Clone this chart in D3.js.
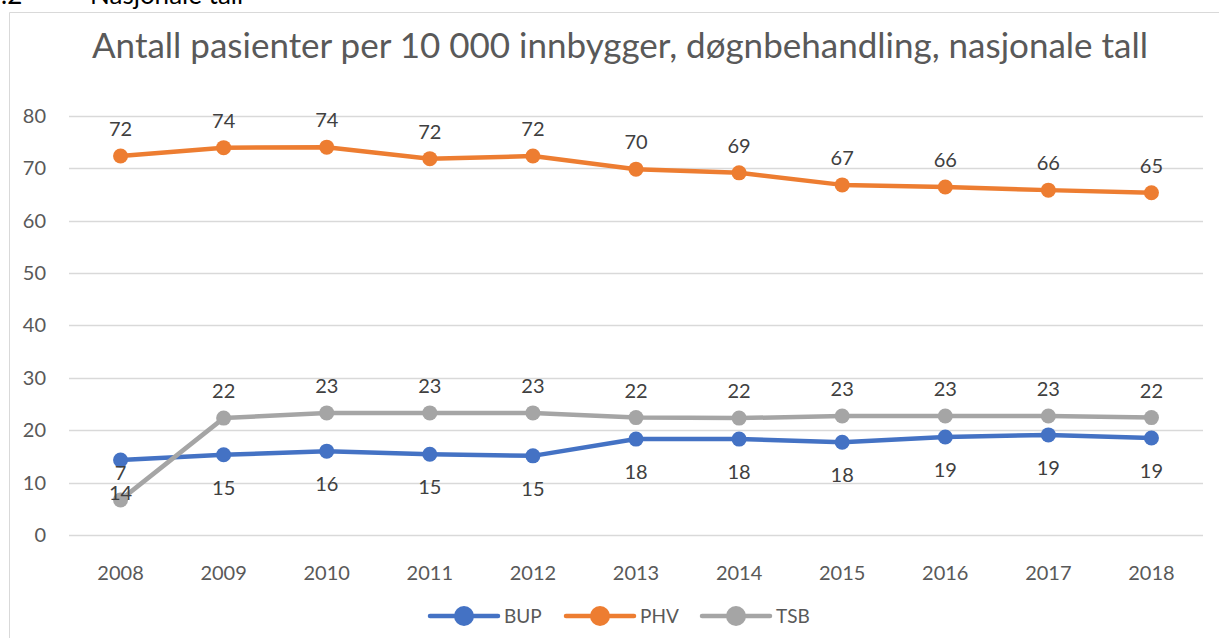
<!DOCTYPE html>
<html>
<head>
<meta charset="utf-8">
<script src="https://cdn.jsdelivr.net/npm/d3@7.9.0/dist/d3.min.js"></script>
<style>
  body { margin: 0; background: #fff; }
  svg { display: block; font-family: Lato, "Open Sans", sans-serif; }
</style>
</head>
<body>
<svg id="chart" width="1219" height="638"></svg>
<script>
// --- DATA ---
const years = ['2008','2009','2010','2011','2012','2013','2014','2015','2016','2017','2018'];
const bup = [14.3, 15.3, 16.0, 15.4, 15.1, 18.3, 18.3, 17.7, 18.7, 19.1, 18.5];
const phv = [72.3, 73.9, 74.0, 71.8, 72.3, 69.8, 69.1, 66.8, 66.4, 65.8, 65.3];
const tsb = [6.7, 22.3, 23.3, 23.3, 23.3, 22.4, 22.3, 22.7, 22.7, 22.7, 22.4];
const yTicks = [0, 10, 20, 30, 40, 50, 60, 70, 80];

const series = [
  { name: 'BUP', values: bup, color: '#4472c4', labelPos: 'below' },
  { name: 'PHV', values: phv, color: '#ed7d31', labelPos: 'above' },
  { name: 'TSB', values: tsb, color: '#a5a5a5', labelPos: 'above' },
];

const svg = d3.select('#chart');

// chopped heading from the page above
svg.append('text').attr('x', -14).attr('y', 4)
  .attr('font-size', 26).attr('fill', '#000')
  .text('6.2');
svg.append('text').attr('x', 90).attr('y', 4)
  .attr('font-size', 26).attr('fill', '#000')
  .text('Nasjonale tall');

// chart frame
svg.append('path')
  .attr('d', 'M9.5,640 V12.5 H1225')
  .attr('fill', 'none').attr('stroke', '#d9d9d9').attr('stroke-width', 1);

// title
svg.append('text')
  .attr('x', 620).attr('y', 58)
  .attr('text-anchor', 'middle')
  .attr('font-size', 35).attr('fill', '#595959')
  .text('Antall pasienter per 10 000 innbygger, døgnbehandling, nasjonale tall');

// --- SCALES ---
const x = d3.scalePoint().domain(years).range([69, 1203]).padding(0.5);
const y = d3.scaleLinear().domain([0, 80]).range([535, 115.7]);

// gridlines
svg.append('g').selectAll('line').data(yTicks).join('line')
  .attr('x1', 69).attr('x2', 1203)
  .attr('y1', d => Math.round(y(d)) + 0.5).attr('y2', d => Math.round(y(d)) + 0.5)
  .attr('stroke', '#d9d9d9').attr('stroke-width', 1.3);

// y tick labels
svg.append('g').selectAll('text').data(yTicks).join('text')
  .attr('x', 46).attr('y', d => y(d))
  .attr('dy', '0.35em').attr('text-anchor', 'end')
  .attr('font-size', 20).attr('fill', '#595959')
  .text(d => d);

// x tick labels
svg.append('g').selectAll('text').data(years).join('text')
  .attr('x', d => x(d)).attr('y', 580)
  .attr('text-anchor', 'middle')
  .attr('font-size', 20).attr('fill', '#595959')
  .text(d => d);

// --- LINES ---
const line = d3.line().x((d, i) => x(years[i])).y(d => y(d));

series.forEach(s => {
  const g = svg.append('g');
  g.append('path').datum(s.values)
    .attr('d', line)
    .attr('fill', 'none').attr('stroke', s.color)
    .attr('stroke-width', 4.5).attr('stroke-linejoin', 'round').attr('stroke-linecap', 'round');
  g.selectAll('circle').data(s.values).join('circle')
    .attr('cx', (d, i) => x(years[i])).attr('cy', d => y(d))
    .attr('r', 7.5).attr('fill', s.color);
});

// data labels (drawn last so they sit on top)
series.forEach(s => {
  svg.append('g').selectAll('text').data(s.values).join('text')
    .attr('x', (d, i) => x(years[i]))
    .attr('y', d => s.labelPos === 'above' ? y(d) - 20 : y(d) + 40)
    .attr('text-anchor', 'middle')
    .attr('font-size', 20).attr('fill', '#404040')
    .text(d => Math.round(d));
});

// --- LEGEND ---
const legendX = [430, 566, 702];
const legend = svg.append('g').selectAll('g').data(series).join('g')
  .attr('transform', (d, i) => `translate(${legendX[i]},616)`);
legend.append('line')
  .attr('x1', 0).attr('x2', 68).attr('y1', 0).attr('y2', 0)
  .attr('stroke', d => d.color).attr('stroke-width', 4.5).attr('stroke-linecap', 'round');
legend.append('circle').attr('cx', 34).attr('cy', 0).attr('r', 10)
  .attr('fill', d => d.color);
legend.append('text').attr('x', 74).attr('y', 0).attr('dy', '0.35em')
  .attr('font-size', 19).attr('fill', '#595959')
  .text(d => d.name);
</script>
</body>
</html>
